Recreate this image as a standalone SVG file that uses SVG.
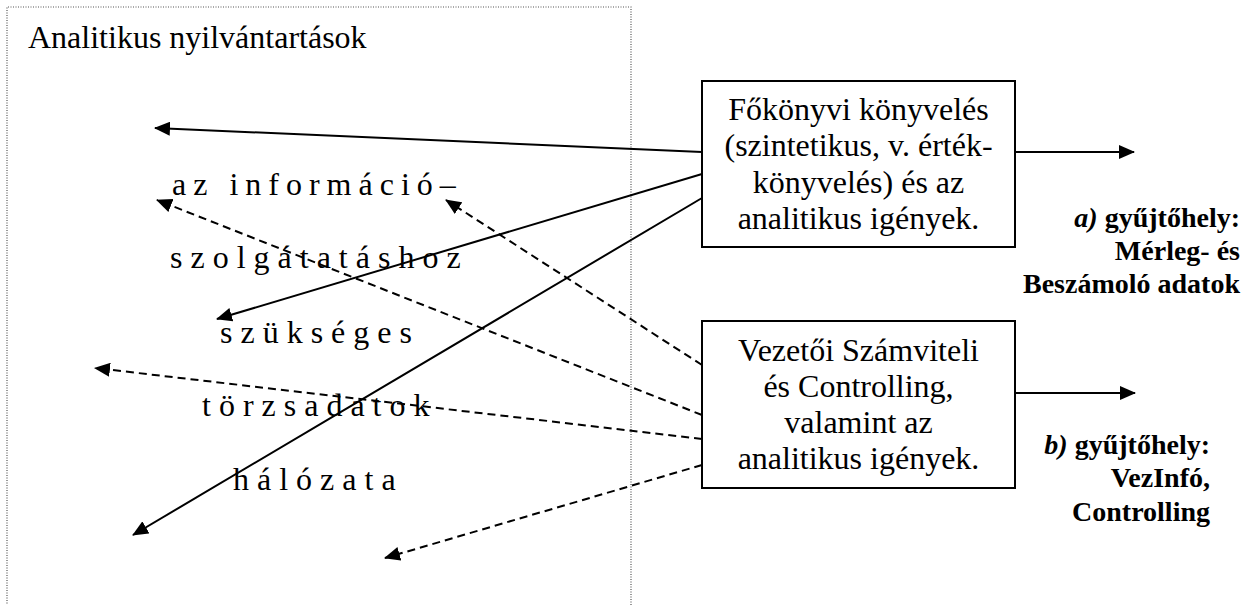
<svg xmlns="http://www.w3.org/2000/svg" width="1246" height="605" viewBox="0 0 1246 605">
<style>
.t{font-family:"Liberation Serif","Times New Roman",serif;font-size:32px;fill:#000}
.sp{letter-spacing:8px}
.b{font-family:"Liberation Serif","Times New Roman",serif;font-size:28px;font-weight:bold;fill:#000}
.box{fill:#fff;stroke:#000;stroke-width:2}
.ln{fill:none;stroke:#000;stroke-width:2;marker-end:url(#ah)}
.dl{fill:none;stroke:#000;stroke-width:2;stroke-dasharray:8 5;marker-end:url(#ah)}
</style>
<defs>
<marker id="ah" markerWidth="16" markerHeight="14" refX="15" refY="7" orient="auto" markerUnits="userSpaceOnUse">
<path d="M0,0 L16,7 L0,14 z" fill="#000"/>
</marker>
</defs>
<rect width="1246" height="605" fill="#fff"/>
<g id="analitikus">
<path d="M7,606 L7,7 L631,7 L631,606" fill="none" stroke="#555" stroke-width="1.2" stroke-dasharray="1 1.5"/>
<text class="t" x="28" y="48">Analitikus nyilvántartások</text>
<text class="t sp" x="172" y="195" style="letter-spacing:7px">az információ–</text>
<text class="t sp" x="170" y="268">szolgátatáshoz</text>
<text class="t sp" x="220" y="343">szükséges</text>
<text class="t sp" x="202" y="416">törzsadatok</text>
<text class="t sp" x="233" y="490">hálózata</text>
</g>
<g id="connectors">
<line class="ln" x1="702" y1="152" x2="155" y2="128"/>
<line class="ln" x1="702" y1="174" x2="217" y2="319"/>
<line class="ln" x1="702" y1="198" x2="133" y2="535"/>
<line class="ln" x1="1015" y1="152" x2="1134" y2="152"/>
<line class="ln" x1="1015" y1="393" x2="1135" y2="393"/>
<line class="dl" x1="702" y1="365" x2="446" y2="200"/>
<line class="dl" x1="702" y1="415" x2="157" y2="200"/>
<line class="dl" x1="702" y1="439" x2="95" y2="368"/>
<line class="dl" x1="702" y1="465" x2="385" y2="558"/>
</g>
<g id="fokonyvi">
<rect class="box" x="702" y="81" width="313" height="166"/>
<text class="t" text-anchor="middle" x="858.5" y="120">Főkönyvi könyvelés</text>
<text class="t" text-anchor="middle" x="858.5" y="156">(szintetikus, v. érték-</text>
<text class="t" text-anchor="middle" x="858.5" y="193">könyvelés) és az</text>
<text class="t" text-anchor="middle" x="858.5" y="229">analitikus igények.</text>
</g>
<g id="vezetoi">
<rect class="box" x="702" y="321" width="313" height="167"/>
<text class="t" text-anchor="middle" x="858.5" y="361">Vezetői Számviteli</text>
<text class="t" text-anchor="middle" x="858.5" y="397">és Controlling,</text>
<text class="t" text-anchor="middle" x="858.5" y="433">valamint az</text>
<text class="t" text-anchor="middle" x="858.5" y="469">analitikus igények.</text>
</g>
<g id="gyujtohely-a">
<text class="b" text-anchor="end" x="1240" y="227"><tspan font-style="italic">a)</tspan> gyűjtőhely:</text>
<text class="b" text-anchor="end" x="1240" y="260">Mérleg- és</text>
<text class="b" text-anchor="end" x="1240" y="293">Beszámoló adatok</text>
</g>
<g id="gyujtohely-b">
<text class="b" text-anchor="end" x="1210" y="454"><tspan font-style="italic">b)</tspan> gyűjtőhely:</text>
<text class="b" text-anchor="end" x="1210" y="487">VezInfó,</text>
<text class="b" text-anchor="end" x="1210" y="521">Controlling</text>
</g>
</svg>
